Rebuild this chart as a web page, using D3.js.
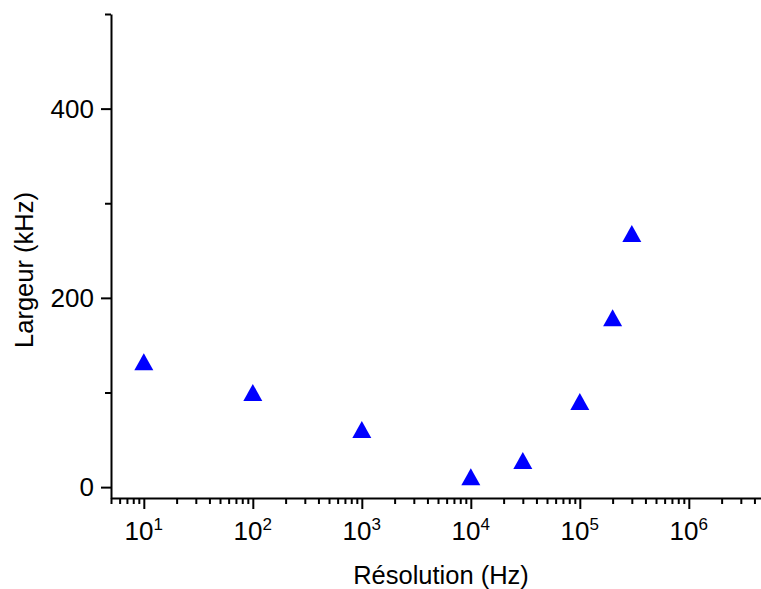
<!DOCTYPE html>
<html>
<head>
<meta charset="utf-8">
<script src="https://cdn.jsdelivr.net/npm/d3@7"></script>
<style>
  html, body { margin: 0; padding: 0; background: #fff; }
  svg { display: block; }
  text { font-family: "Liberation Sans", Arial, sans-serif; fill: #000; }
</style>
</head>
<body>
<svg id="chart" width="761" height="589"></svg>
<script>
// ---- data ----
const resolutionHz = [10, 100, 1000, 10000, 30000, 100000, 200000, 300000];
const largeurKHz   = [132.5, 100, 61, 11, 28, 90.5, 179, 268];
const xMajorExponents = [1, 2, 3, 4, 5, 6];
const yMajorTicks = [0, 200, 400];
const yMinorTicks = [100, 300, 500];
const xTitle = "Résolution (Hz)";
const yTitle = "Largeur (kHz)";

// ---- layout ----
const svg = d3.select("#chart");
const x = d3.scaleLog().domain([5, 5e6]).range([111, 765]);
const y = d3.scaleLinear().domain([-11.5, 500]).range([498, 14]);

// minor x ticks (2..9 of each decade, plus the 5 at start)
const xMinor = [];
for (let e = 0; e <= 6; e++) {
  for (let m = 2; m <= 9; m++) {
    const v = m * Math.pow(10, e);
    if (v >= 5 && v <= 5e6) xMinor.push(v);
  }
}
const xMajor = xMajorExponents.map(e => Math.pow(10, e));

function styleAxis(g) {
  g.selectAll("path, line").attr("stroke", "#000").attr("stroke-width", 2);
  g.selectAll("text").remove();
}

// x axis minor
svg.append("g").attr("transform", `translate(0,${y.range()[0]})`)
  .call(d3.axisBottom(x).tickValues(xMinor).tickSize(6).tickSizeOuter(0).tickFormat(""))
  .call(styleAxis);
// x axis major
svg.append("g").attr("transform", `translate(0,${y.range()[0]})`)
  .call(d3.axisBottom(x).tickValues(xMajor).tickSize(11).tickSizeOuter(0).tickFormat(""))
  .call(styleAxis)
  .call(g => g.select(".domain").remove());

// y axis minor
svg.append("g").attr("transform", `translate(${x.range()[0]},0)`)
  .call(d3.axisLeft(y).tickValues(yMinorTicks).tickSize(6).tickSizeOuter(0).tickFormat(""))
  .call(styleAxis);
// y axis major
svg.append("g").attr("transform", `translate(${x.range()[0]},0)`)
  .call(d3.axisLeft(y).tickValues(yMajorTicks).tickSize(10).tickSizeOuter(0).tickFormat(""))
  .call(styleAxis)
  .call(g => g.select(".domain").remove());

// x tick labels 10^n
const xl = svg.append("g").selectAll("text").data(xMajorExponents).join("text")
  .attr("x", d => x(Math.pow(10, d)))
  .attr("y", 540)
  .attr("text-anchor", "middle")
  .style("font-size", "26px");
xl.append("tspan").text("10");
xl.append("tspan").text(d => d).style("font-size", "17px").attr("dy", -10);

// y tick labels
svg.append("g").selectAll("text").data(yMajorTicks).join("text")
  .attr("x", 94)
  .attr("y", d => y(d))
  .attr("dy", "0.36em")
  .attr("text-anchor", "end")
  .style("font-size", "26px")
  .text(d => d);

// titles
svg.append("text")
  .attr("x", 441).attr("y", 584)
  .attr("text-anchor", "middle")
  .style("font-size", "25.5px")
  .text(xTitle);
svg.append("text")
  .attr("transform", "translate(33,270) rotate(-90)")
  .attr("text-anchor", "middle")
  .style("font-size", "25.5px")
  .text(yTitle);

// markers: filled blue triangles
const tw = 9.5, th = 8.5;
svg.append("g").selectAll("path").data(resolutionHz.map((r, i) => [r, largeurKHz[i]])).join("path")
  .attr("d", d => {
    const cx = x(d[0]), cy = y(d[1]);
    return `M${cx - tw},${cy + th}L${cx + tw},${cy + th}L${cx},${cy - th}Z`;
  })
  .attr("fill", "#0000ff");
</script>
</body>
</html>
